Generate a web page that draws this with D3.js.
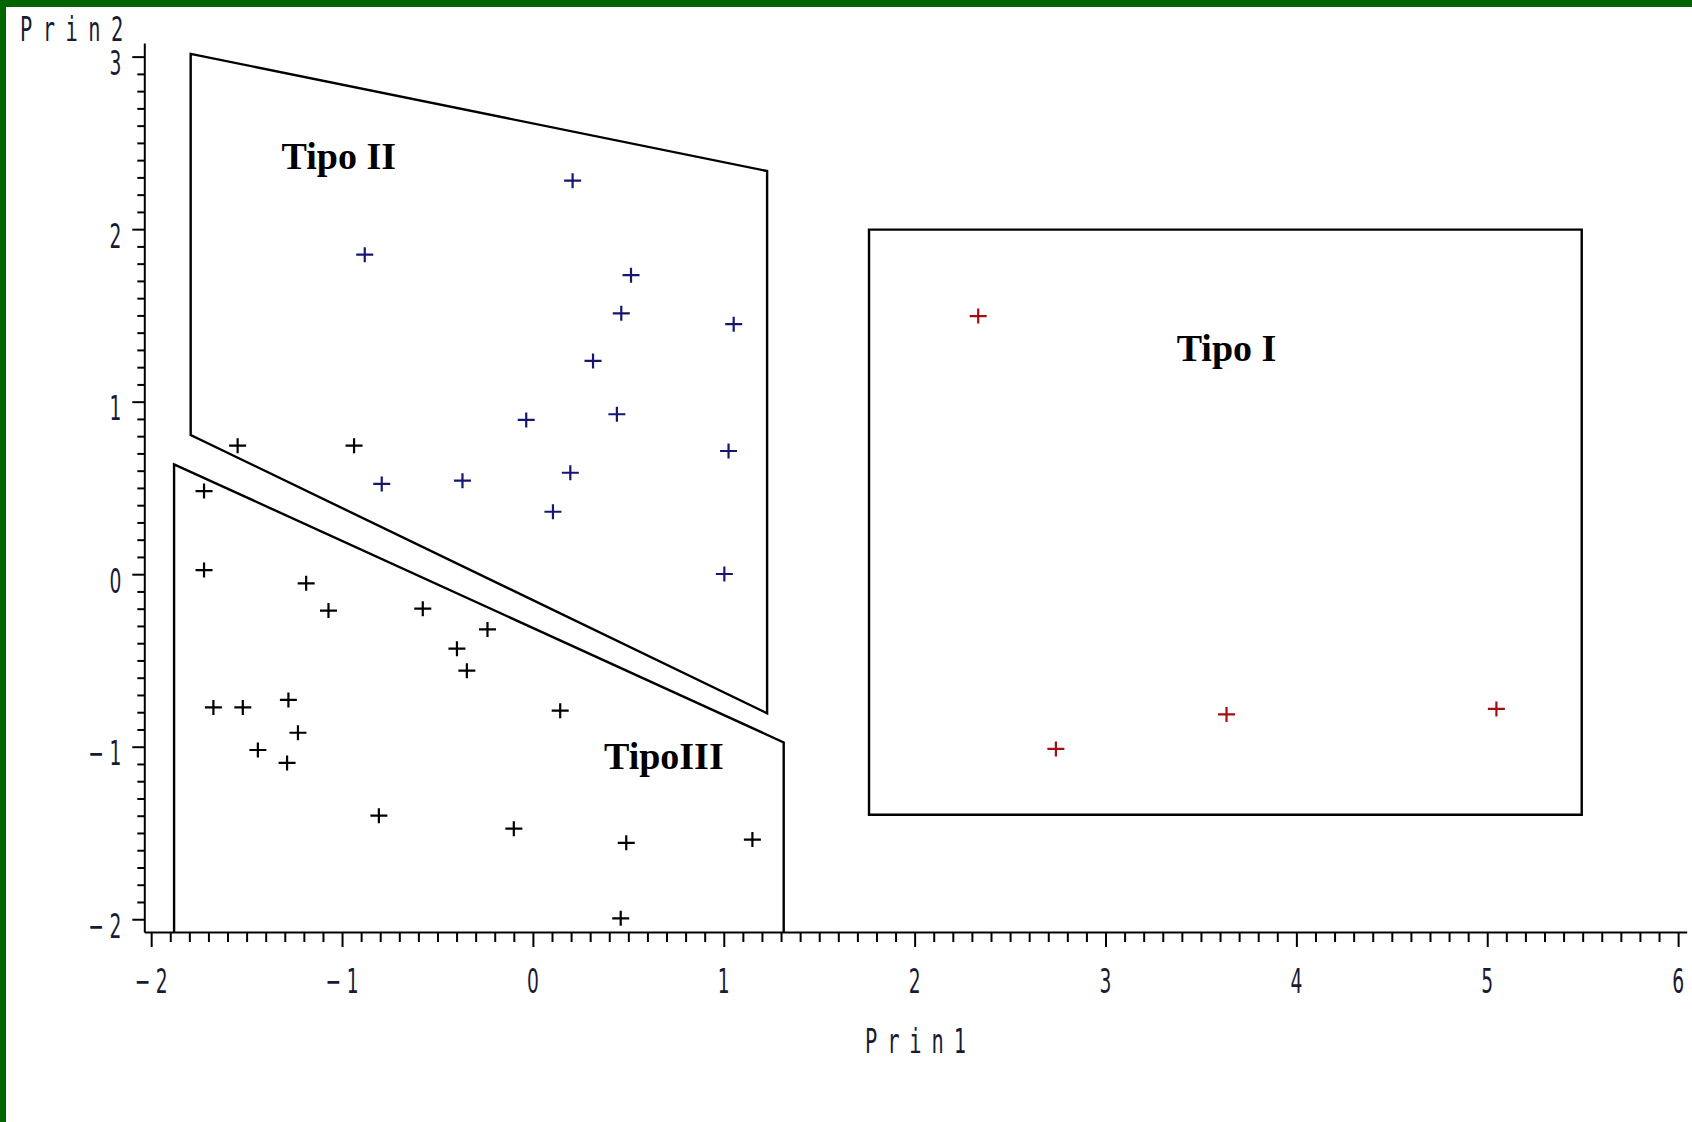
<!DOCTYPE html>
<html>
<head>
<meta charset="utf-8">
<script src="https://cdn.jsdelivr.net/npm/d3@7"></script>
<style>
  html, body { margin: 0; padding: 0; background: #fff; }
  #chart-container { position: relative; width: 1692px; height: 1122px; overflow: hidden; }
</style>
</head>
<body>
<div id="chart-container"></div>
<script>
// Dữ liệu điểm (Prin1, Prin2) theo nhóm
const tipoIX = [2.333, 2.740, 3.634, 5.048];
const tipoIY = [1.496, -1.013, -0.813, -0.781];

const tipoIIX = [0.208, -0.881, 0.514, 0.463, 1.052, 0.315, -0.035, 0.440, 1.025, -0.792, -0.369, 0.196, 0.105, 1.003];
const tipoIIY = [2.281, 1.852, 1.733, 1.512, 1.449, 1.236, 0.894, 0.927, 0.714, 0.523, 0.542, 0.588, 0.362, 0.001];

const tipoIIIX = [-1.547, -0.937, -1.723, -1.723, -1.188, -1.071, -0.577, -0.238, -0.398, -0.346, -1.674, -1.520,
                  -1.281, -1.231, -1.441, -1.288, 0.143, -0.807, -0.100, 0.489, 1.150, 0.460];
const tipoIIIY = [0.745, 0.745, 0.482, 0.024, -0.053, -0.211, -0.200, -0.320, -0.432, -0.559, -0.772, -0.772,
                  -0.729, -0.919, -1.019, -1.094, -0.791, -1.400, -1.475, -1.557, -1.538, -1.995];

// Vùng phân loại (đỉnh đa giác theo toạ độ dữ liệu)
const regionIIX = [-1.793, 1.227, 1.227, -1.793];
const regionIIY = [3.016, 2.337, -0.806, 0.807];
const regionIIIX = [-1.880, -1.880, 1.314, 1.314];
const regionIIIY = [-2.074, 0.637, -0.975, -2.074];
const regionIX = [1.761, 5.495, 5.495, 1.761];
const regionIY = [1.997, 1.997, -1.394, -1.394];

// Nhãn vùng
const regionLabels = ["Tipo II", "Tipo I", "TipoIII"];
const regionLabelX = [-1.017, 3.634, 0.686];
const regionLabelY = [2.347, 1.233, -1.132];

// Trục
const xDomain = [-2.036, 6.045];
const yDomain = [-2.074, 3.079];
const xMajorTicks = [-2, -1, 0, 1, 2, 3, 4, 5, 6];
const yMajorTicks = [-2, -1, 0, 1, 2, 3];
const xTitle = "Prin1";
const yTitle = "Prin2";

const width = 1692;
const height = 1122;
const margin = { top: 43, right: 5.3, bottom: 190, left: 144.3 };
const innerW = width - margin.left - margin.right;
const innerH = height - margin.top - margin.bottom;

const svg = d3.select("#chart-container")
    .append("svg")
    .attr("width", width)
    .attr("height", height);

// Viền xanh lá (trên và trái)
svg.append("rect").attr("x", 0).attr("y", 0).attr("width", width).attr("height", 7).attr("fill", "#006400");
svg.append("rect").attr("x", 0).attr("y", 0).attr("width", 6).attr("height", height).attr("fill", "#006400");

const g = svg.append("g").attr("transform", `translate(${margin.left},${margin.top})`);

const x = d3.scaleLinear().domain(xDomain).range([0, innerW]);
const y = d3.scaleLinear().domain(yDomain).range([innerH, 0]);

// Font kiểu SAS: chữ hẹp, cao
const textColor = "#1a1a33";

function sasText(parent, px, py, str, anchor, spacing, font, sx) {
    const t = parent.append("text")
        .attr("transform", `translate(${px},${py}) scale(${sx},1)`)
        .attr("text-anchor", anchor)
        .style("font-family", font)
        .style("font-size", "34px")
        .style("letter-spacing", `${spacing}px`)
        .attr("fill", textColor)
        .text(str);
    // bù khoảng cách thừa sau ký tự cuối
    if (anchor === "middle") t.attr("dx", spacing / 2);
    if (anchor === "end") t.attr("dx", spacing);
    return t;
}
const monoFont = "'DejaVu Sans Mono', monospace";
const numFont = "'DejaVu Sans', sans-serif";

// Vùng phân loại
const line = d3.line().x(d => x(d[0])).y(d => y(d[1]));
const polyStyle = sel => sel.attr("fill", "none").attr("stroke", "#000").attr("stroke-width", 2.4).attr("stroke-linejoin", "miter");

g.append("path").datum(d3.zip(regionIIX, regionIIY)).attr("d", d => line(d) + "Z").call(polyStyle);
g.append("path").datum(d3.zip(regionIIIX, regionIIIY)).attr("d", line).call(polyStyle);
g.append("path").datum(d3.zip(regionIX, regionIY)).attr("d", d => line(d) + "Z").call(polyStyle);

// Điểm dạng dấu "+"
const plus = "M-8.5,0H8.5M0,-7.5V7.5";
const groups = [
    { xs: tipoIIIX, ys: tipoIIIY, color: "#000000" },
    { xs: tipoIIX, ys: tipoIIY, color: "#16166e" },
    { xs: tipoIX, ys: tipoIY, color: "#a01010" }
];
groups.forEach(grp => {
    g.append("g")
        .selectAll("path")
        .data(d3.zip(grp.xs, grp.ys))
        .enter()
        .append("path")
        .attr("transform", d => `translate(${x(d[0])},${y(d[1])})`)
        .attr("d", plus)
        .attr("stroke", grp.color)
        .attr("stroke-width", 2.2)
        .attr("fill", "none");
});

// Nhãn vùng
g.selectAll(".region-label")
    .data(regionLabels)
    .enter()
    .append("text")
    .attr("class", "region-label")
    .attr("x", (d, i) => x(regionLabelX[i]))
    .attr("y", (d, i) => y(regionLabelY[i]))
    .attr("text-anchor", "middle")
    .style("font-family", "'Liberation Serif', 'Times New Roman', serif")
    .style("font-weight", "bold")
    .style("font-size", "38px")
    .attr("fill", "#000")
    .text(d => d);

// Vạch chia phụ (mỗi 0.1)
const xMinor = d3.range(-20, 61).map(v => v / 10).filter(v => !Number.isInteger(v));
const yMinor = d3.range(-20, 31).map(v => v / 10).filter(v => !Number.isInteger(v));

const axisStyle = sel => {
    sel.selectAll("line").attr("stroke", "#000").attr("stroke-width", 2);
    sel.selectAll("path").attr("stroke", "#000").attr("stroke-width", 2);
};

// Trục x
const xAxisG = g.append("g").attr("transform", `translate(0,${innerH})`);
xAxisG.append("g")
    .call(d3.axisBottom(x).tickValues(xMinor).tickSize(10).tickSizeOuter(0).tickFormat(""))
    .call(axisStyle);
xAxisG.append("g")
    .call(d3.axisBottom(x).tickValues(xMajorTicks).tickSize(15).tickSizeOuter(0).tickFormat(""))
    .call(axisStyle)
    .select(".domain").remove();
xMajorTicks.forEach(v => {
    sasText(xAxisG, x(v), 61, d3.format("d")(v), "middle", 10, numFont, 0.55);
});

// Trục y
const yAxisG = g.append("g");
yAxisG.append("g")
    .call(d3.axisLeft(y).tickValues(yMinor).tickSize(7).tickSizeOuter(0).tickFormat(""))
    .call(axisStyle);
yAxisG.append("g")
    .call(d3.axisLeft(y).tickValues(yMajorTicks).tickSize(12).tickSizeOuter(0).tickFormat(""))
    .call(axisStyle)
    .select(".domain").remove();
yMajorTicks.forEach(v => {
    sasText(yAxisG, -23, y(v) + 18.5, d3.format("d")(v), "end", 10, numFont, 0.55);
});

// Tiêu đề trục
sasText(g, innerW / 2, 1052.7 - margin.top, xTitle, "middle", 16.5, monoFont, 0.6);
sasText(svg, 20, 40.5, yTitle, "start", 17.5, monoFont, 0.6);
</script>
</body>
</html>
